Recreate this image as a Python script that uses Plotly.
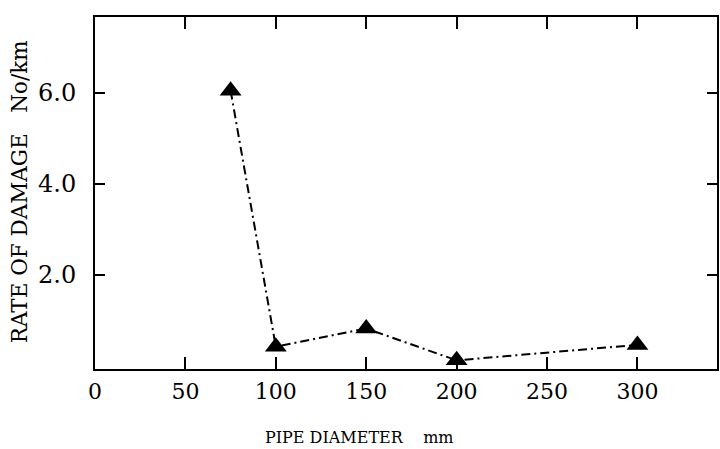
import plotly.graph_objects as go

diameter = [75, 100, 150, 200, 300]
rate = [6.05, 0.42, 0.82, 0.12, 0.46]

x_ticks = [0, 50, 100, 150, 200, 250, 300]
x_labels = ["0", "50", "100", "150", "200", "250", "300"]
y_ticks = [2, 4, 6]
y_labels = ["2.0", "4.0", "6.0"]
x_title = "PIPE DIAMETER    mm"
y_title = "RATE OF DAMAGE   No/km"

FONT = "DejaVu Serif, Liberation Serif, serif"

fig = go.Figure()
fig.add_trace(go.Scatter(
    x=diameter, y=rate, mode="lines+markers",
    line=dict(color="black", width=2, dash="9px,4px,2px,4px"),
    marker=dict(symbol="triangle-up", size=19, color="black"),
    showlegend=False,
))

fig.update_layout(
    width=720, height=449,
    margin=dict(l=95, r=1, t=17, b=80),
    paper_bgcolor="white", plot_bgcolor="white",
    font=dict(family=FONT, color="black", size=20),
)
fig.update_xaxes(
    range=[0, 344], tickvals=x_ticks, ticktext=x_labels,
    ticks="inside", ticklen=12, tickwidth=2, tickcolor="black",
    showline=True, linewidth=2, linecolor="black", mirror="ticks",
    showgrid=False, zeroline=False,
    tickfont=dict(size=22), ticklabelstandoff=2,
)
fig.update_yaxes(
    range=[-0.07, 7.67], tickvals=y_ticks, ticktext=y_labels,
    ticks="inside", ticklen=10, tickwidth=2, tickcolor="black",
    showline=True, linewidth=2, linecolor="black", mirror="ticks",
    showgrid=False, zeroline=False,
    tickfont=dict(size=24), ticklabelstandoff=12,
)
fig.add_annotation(
    text=x_title, xref="paper", yref="paper",
    x=(360 - 95) / 624, y=-(437 - 369) / 352,
    xanchor="center", yanchor="middle", showarrow=False,
    font=dict(size=16),
)
fig.add_annotation(
    text=y_title, xref="paper", yref="paper",
    x=-(95 - 19) / 624, y=(369 - 192) / 352,
    xanchor="center", yanchor="middle", showarrow=False,
    textangle=-90, font=dict(size=21.5),
)

fig.write_html("out.html")
